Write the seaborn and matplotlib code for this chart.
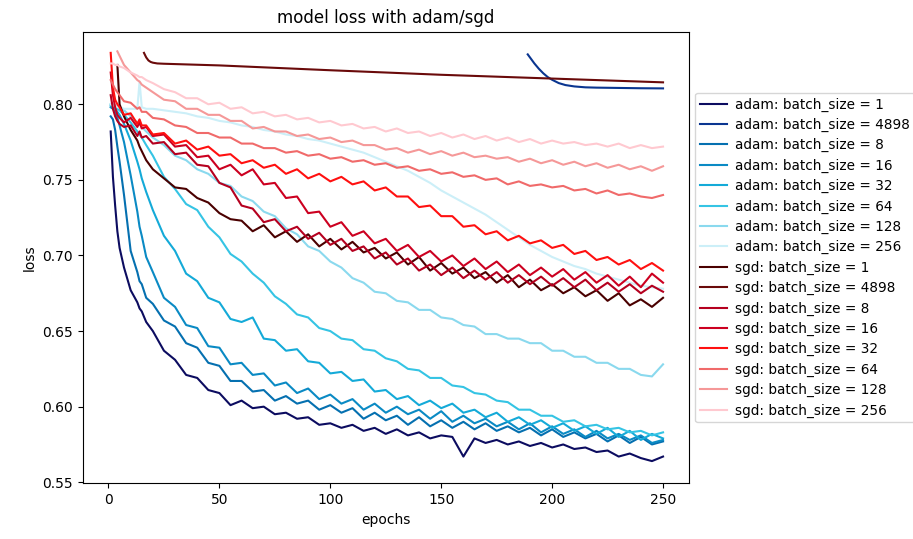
import numpy as np
import pandas as pd
import matplotlib
matplotlib.use("Agg")
import matplotlib.pyplot as plt
import seaborn as sns

nan = np.nan

# shared epoch grid for most runs
EPOCHS = [1, 2, 3, 4, 5, 7, 10, 13, 14, 15,
          17, 20, 25, 30, 35, 40, 45, 50, 55, 60,
          65, 70, 75, 80, 85, 90, 95, 100, 105, 110,
          115, 120, 125, 130, 135, 140, 145, 150, 155, 160,
          165, 170, 175, 180, 185, 190, 195, 200, 205, 210,
          215, 220, 225, 230, 235, 240, 245, 250]

adam_1 = [0.782, 0.752, 0.733, 0.716, 0.705, 0.692, 0.677, 0.669, 0.665, 0.663,
          0.656, 0.650, 0.637, 0.631, 0.621, 0.619, 0.611, 0.609, 0.601, 0.604,
          0.599, 0.600, 0.595, 0.596, 0.592, 0.593, 0.588, 0.589, 0.586, 0.588,
          0.584, 0.586, 0.582, 0.585, 0.581, 0.583, 0.579, 0.581, 0.580, 0.567,
          0.579, 0.576, 0.578, 0.575, 0.577, 0.574, 0.576, 0.573, 0.575, 0.572,
          0.573, 0.570, 0.571, 0.567, 0.569, 0.566, 0.564, 0.567]
adam_8 = [0.792, 0.790, 0.783, 0.772, 0.762, 0.740, 0.703, 0.689, 0.683, 0.681,
          0.672, 0.668, 0.657, 0.653, 0.642, 0.639, 0.629, 0.627, 0.617, 0.617,
          0.610, 0.611, 0.604, 0.607, 0.602, 0.604, 0.598, 0.601, 0.596, 0.599,
          0.592, 0.596, 0.591, 0.594, 0.588, 0.593, 0.587, 0.591, 0.586, 0.590,
          0.585, 0.589, 0.584, 0.587, 0.583, 0.586, 0.581, 0.585, 0.580, 0.583,
          0.579, 0.582, 0.577, 0.581, 0.576, 0.580, 0.575, 0.577]
adam_16 = [0.798, 0.797, 0.795, 0.791, 0.786, 0.775, 0.753, 0.729, 0.719, 0.713,
           0.699, 0.689, 0.672, 0.666, 0.654, 0.652, 0.640, 0.639, 0.628, 0.629,
           0.621, 0.622, 0.614, 0.616, 0.609, 0.612, 0.605, 0.608, 0.602, 0.605,
           0.598, 0.602, 0.596, 0.600, 0.595, 0.598, 0.592, 0.597, 0.590, 0.594,
           0.589, 0.592, 0.587, 0.590, 0.585, 0.589, 0.583, 0.587, 0.582, 0.585,
           0.580, 0.584, 0.579, 0.582, 0.578, 0.581, 0.576, 0.578]
adam_32 = [0.799, 0.798, 0.797, 0.795, 0.793, 0.787, 0.776, 0.762, 0.757, 0.751,
           0.742, 0.730, 0.713, 0.703, 0.688, 0.683, 0.672, 0.669, 0.658, 0.656,
           0.659, 0.645, 0.644, 0.637, 0.638, 0.630, 0.629, 0.622, 0.623, 0.617,
           0.618, 0.610, 0.611, 0.605, 0.607, 0.601, 0.604, 0.599, 0.602, 0.596,
           0.598, 0.593, 0.596, 0.590, 0.593, 0.588, 0.591, 0.586, 0.589, 0.584,
           0.587, 0.582, 0.586, 0.580, 0.584, 0.578, 0.582, 0.579]
adam_64 = [0.800, 0.799, 0.798, 0.797, 0.796, 0.793, 0.788, 0.782, 0.780, 0.778,
           0.773, 0.766, 0.752, 0.744, 0.734, 0.730, 0.719, 0.712, 0.701, 0.696,
           0.688, 0.682, 0.673, 0.668, 0.661, 0.659, 0.652, 0.650, 0.645, 0.644,
           0.638, 0.637, 0.632, 0.630, 0.625, 0.624, 0.619, 0.619, 0.614, 0.613,
           0.609, 0.608, 0.604, 0.603, 0.598, 0.598, 0.594, 0.594, 0.590, 0.591,
           0.587, 0.588, 0.585, 0.586, 0.583, 0.584, 0.581, 0.583]
adam_128 = [0.800, 0.800, 0.799, 0.799, 0.798, 0.796, 0.792, 0.788, 0.787, 0.785,
            0.782, 0.778, 0.773, 0.766, 0.763, 0.757, 0.754, 0.748, 0.746, 0.739,
            0.736, 0.729, 0.726, 0.718, 0.714, 0.706, 0.703, 0.696, 0.692, 0.685,
            0.682, 0.676, 0.675, 0.670, 0.669, 0.664, 0.664, 0.659, 0.658, 0.654,
            0.653, 0.648, 0.648, 0.645, 0.645, 0.642, 0.642, 0.637, 0.637, 0.633,
            0.633, 0.629, 0.629, 0.625, 0.625, 0.621, 0.620, 0.628]
adam_256 = [0.800, 0.799, 0.799, 0.798, 0.798, 0.797, 0.797, 0.797, 0.815, 0.798,
            0.797, 0.797, 0.796, 0.795, 0.794, 0.792, 0.791, 0.789, 0.788, 0.786,
            0.785, 0.783, 0.782, 0.780, 0.779, 0.777, 0.776, 0.774, 0.772, 0.770,
            0.768, 0.765, 0.762, 0.759, 0.756, 0.752, 0.748, 0.743, 0.739, 0.735,
            0.731, 0.727, 0.722, 0.717, 0.712, 0.707, 0.703, 0.699, 0.696, 0.693,
            0.691, 0.688, 0.686, 0.684, 0.682, 0.680, 0.679, 0.678]

sgd_1 = [nan, nan, nan, 0.826, 0.800, 0.792, 0.783, 0.776, 0.772, 0.769,
         0.763, 0.757, 0.751, 0.745, 0.744, 0.738, 0.735, 0.728, 0.724, 0.723,
         0.716, 0.720, 0.712, 0.716, 0.709, 0.714, 0.706, 0.711, 0.704, 0.709,
         0.702, 0.705, 0.698, 0.702, 0.694, 0.699, 0.690, 0.695, 0.688, 0.692,
         0.685, 0.689, 0.682, 0.687, 0.679, 0.684, 0.677, 0.681, 0.675, 0.679,
         0.673, 0.677, 0.670, 0.675, 0.667, 0.671, 0.666, 0.672]
sgd_8 = [0.806, 0.797, 0.792, 0.789, 0.787, 0.785, 0.786, 0.779, 0.782, 0.778,
         0.779, 0.774, 0.775, 0.767, 0.768, 0.760, 0.759, 0.748, 0.745, 0.733,
         0.731, 0.722, 0.724, 0.716, 0.719, 0.711, 0.715, 0.707, 0.711, 0.703,
         0.706, 0.698, 0.702, 0.694, 0.698, 0.690, 0.694, 0.687, 0.692, 0.685,
         0.690, 0.684, 0.689, 0.682, 0.687, 0.681, 0.686, 0.680, 0.685, 0.679,
         0.684, 0.677, 0.682, 0.676, 0.681, 0.675, 0.680, 0.676]
sgd_16 = [0.821, 0.806, 0.798, 0.793, 0.791, 0.788, 0.791, 0.785, 0.788, 0.784,
          0.785, 0.779, 0.780, 0.772, 0.773, 0.765, 0.766, 0.757, 0.760, 0.753,
          0.757, 0.747, 0.748, 0.738, 0.739, 0.728, 0.729, 0.719, 0.722, 0.713,
          0.716, 0.708, 0.711, 0.703, 0.707, 0.699, 0.703, 0.696, 0.700, 0.693,
          0.698, 0.691, 0.696, 0.689, 0.694, 0.687, 0.692, 0.686, 0.691, 0.684,
          0.689, 0.682, 0.687, 0.680, 0.686, 0.679, 0.688, 0.682]
sgd_32 = [0.834, 0.811, 0.803, 0.800, 0.798, 0.793, 0.794, 0.787, 0.790, 0.786,
          0.786, 0.780, 0.781, 0.774, 0.776, 0.770, 0.772, 0.766, 0.767, 0.761,
          0.763, 0.758, 0.760, 0.754, 0.757, 0.751, 0.754, 0.749, 0.752, 0.747,
          0.749, 0.743, 0.745, 0.739, 0.739, 0.732, 0.733, 0.726, 0.726, 0.719,
          0.720, 0.714, 0.716, 0.710, 0.713, 0.708, 0.710, 0.705, 0.707, 0.701,
          0.703, 0.697, 0.699, 0.694, 0.697, 0.691, 0.695, 0.690]
sgd_64 = [0.816, 0.813, 0.810, 0.808, 0.806, 0.802, 0.801, 0.797, 0.798, 0.795,
          0.795, 0.791, 0.790, 0.786, 0.785, 0.781, 0.781, 0.778, 0.778, 0.774,
          0.774, 0.771, 0.771, 0.768, 0.769, 0.766, 0.767, 0.764, 0.765, 0.762,
          0.763, 0.760, 0.761, 0.758, 0.759, 0.756, 0.757, 0.754, 0.755, 0.752,
          0.753, 0.750, 0.751, 0.747, 0.749, 0.746, 0.747, 0.745, 0.746, 0.743,
          0.744, 0.741, 0.743, 0.740, 0.741, 0.739, 0.738, 0.740]
sgd_128 = [nan, nan, nan, 0.835, 0.832, 0.826, 0.821, 0.816, 0.815, 0.813,
           0.811, 0.808, 0.803, 0.802, 0.797, 0.797, 0.793, 0.793, 0.789, 0.789,
           0.784, 0.785, 0.782, 0.782, 0.779, 0.780, 0.777, 0.778, 0.775, 0.776,
           0.773, 0.773, 0.770, 0.771, 0.768, 0.770, 0.767, 0.769, 0.766, 0.768,
           0.765, 0.766, 0.764, 0.765, 0.762, 0.764, 0.761, 0.763, 0.760, 0.762,
           0.759, 0.761, 0.758, 0.760, 0.757, 0.759, 0.756, 0.759]
sgd_256 = [0.827, 0.827, 0.826, 0.826, 0.825, 0.824, 0.821, 0.819, 0.818, 0.818,
           0.816, 0.814, 0.810, 0.808, 0.804, 0.804, 0.800, 0.801, 0.797, 0.798,
           0.794, 0.795, 0.792, 0.793, 0.790, 0.791, 0.788, 0.789, 0.786, 0.787,
           0.784, 0.785, 0.782, 0.784, 0.781, 0.782, 0.779, 0.781, 0.778, 0.780,
           0.777, 0.779, 0.776, 0.778, 0.775, 0.777, 0.774, 0.776, 0.774, 0.775,
           0.773, 0.774, 0.772, 0.774, 0.771, 0.773, 0.771, 0.772]

# full-batch runs only come into view late
adam_4898_epochs = [189, 190, 192, 194, 196, 198, 200, 203, 206, 210, 215, 220, 230, 240, 250]
adam_4898 = [0.833, 0.831, 0.827, 0.8235, 0.8205, 0.818, 0.8162, 0.814, 0.8127,
             0.8118, 0.8112, 0.811, 0.8108, 0.8106, 0.8105]
sgd_4898_epochs = [16, 17, 18, 19, 20, 22, 25, 50, 100, 150, 200, 250]
sgd_4898 = [0.834, 0.831, 0.829, 0.828, 0.8275, 0.827, 0.8268, 0.8257, 0.8225,
            0.8195, 0.817, 0.8145]

LABELS = ["adam: batch_size = 1", "adam: batch_size = 4898", "adam: batch_size = 8",
          "adam: batch_size = 16", "adam: batch_size = 32", "adam: batch_size = 64",
          "adam: batch_size = 128", "adam: batch_size = 256",
          "sgd: batch_size = 1", "sgd: batch_size = 4898", "sgd: batch_size = 8",
          "sgd: batch_size = 16", "sgd: batch_size = 32", "sgd: batch_size = 64",
          "sgd: batch_size = 128", "sgd: batch_size = 256"]
COLORS = ["#0c0c60", "#0a3590", "#0570b0", "#0a8ac4", "#14aad8", "#35c4e4",
          "#8ad9ee", "#cceff8",
          "#4a0000", "#6a0a0a", "#b5001f", "#cc0020", "#ff1010", "#f06a6a",
          "#f59898", "#ffc9d0"]

series = [(EPOCHS, adam_1), (adam_4898_epochs, adam_4898), (EPOCHS, adam_8),
          (EPOCHS, adam_16), (EPOCHS, adam_32), (EPOCHS, adam_64),
          (EPOCHS, adam_128), (EPOCHS, adam_256),
          (EPOCHS, sgd_1), (sgd_4898_epochs, sgd_4898), (EPOCHS, sgd_8),
          (EPOCHS, sgd_16), (EPOCHS, sgd_32), (EPOCHS, sgd_64),
          (EPOCHS, sgd_128), (EPOCHS, sgd_256)]

frames = []
for lab, (xs, ys) in zip(LABELS, series):
    d = pd.DataFrame({"epochs": xs, "loss": ys})
    d["run"] = lab
    frames.append(d.dropna())
df = pd.concat(frames, ignore_index=True)

fig = plt.figure(figsize=(9.13, 5.39), dpi=100)
ax = fig.add_axes([0.0904, 0.1033, 0.664, 0.8379])

sns.lineplot(data=df, x="epochs", y="loss", hue="run", hue_order=LABELS,
             palette=dict(zip(LABELS, COLORS)), estimator=None, errorbar=None,
             linewidth=1.5, ax=ax)

ax.set_xlim(-11.7, 261.6)
ax.set_ylim(0.5493, 0.848)
ax.set_xticks([0, 50, 100, 150, 200, 250])
ax.set_yticks([0.55, 0.60, 0.65, 0.70, 0.75, 0.80])
ax.set_title("model loss with adam/sgd", fontsize=12)
ax.set_xlabel("epochs")
ax.set_ylabel("loss")

sns.move_legend(ax, "center left", bbox_to_anchor=(1.0, 0.5), title=None,
                fontsize=9.8, labelspacing=0.46, handlelength=2.0,
                handletextpad=0.6, borderpad=0.35, borderaxespad=0.45,
                frameon=True)

fig.savefig("out.png", dpi=100)
